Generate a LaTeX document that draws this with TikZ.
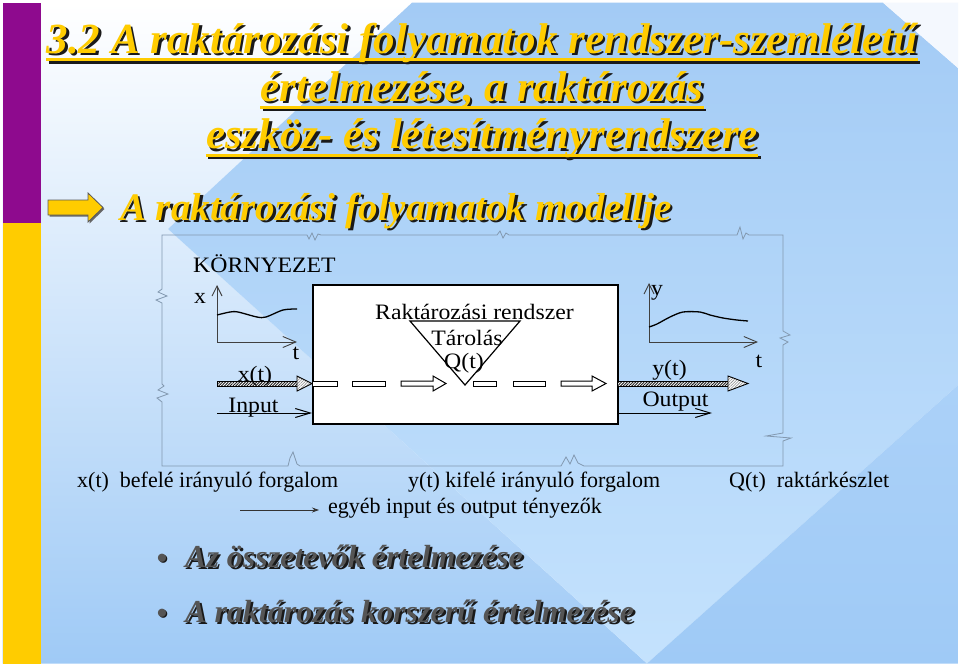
\documentclass[tikz,border=0pt]{standalone}
\usepackage{fontspec}
\setmainfont{Liberation Serif}
\newfontfamily\diagfont{Liberation Serif}[FakeStretch=1.08]
\usetikzlibrary{arrows.meta,patterns.meta,calc}
\definecolor{ttlyellow}{HTML}{FFCC00}
\definecolor{barpurple}{HTML}{8E0A8E}
\definecolor{baryellow}{HTML}{FFCC00}
\definecolor{pTop}{HTML}{A3CBF5}
\definecolor{pBot}{HTML}{C4E2FD}
\definecolor{lMid}{HTML}{D8E9FA}
\definecolor{lBot}{HTML}{9FCAF6}
\definecolor{rTop}{HTML}{ABD1F8}
\definecolor{cornerc}{HTML}{F4F8FE}
\definecolor{frameclr}{HTML}{8399B0}
\definecolor{bulgray}{HTML}{555555}
\definecolor{shadowc}{HTML}{1A1A1A}
\begin{document}
\begin{tikzpicture}[x=1pt,y=-1pt,
  ttl/.style={font=\fontsize{43}{50}\selectfont\bfseries\itshape, inner sep=0pt, text=ttlyellow},
  ttlsh/.style={ttl, text=shadowc},
  subttl/.style={font=\fontsize{39}{46}\selectfont\bfseries\itshape, inner sep=0pt, text=ttlyellow},
  subttlsh/.style={subttl, text=shadowc},
  uline/.style={draw=ttlyellow, line width=2.7pt},
  ulinesh/.style={draw=shadowc, line width=2.7pt},
  diag/.style={font=\diagfont\fontsize{22}{26}\selectfont, inner sep=0pt, text=black},
  legend/.style={font=\fontsize{22}{26}\selectfont, inner sep=0pt, text=black, anchor=base west},
  bul/.style={font=\fontsize{32}{38}\selectfont\bfseries\itshape, inner sep=0pt, text=bulgray, anchor=base west},
  bulsh/.style={bul, text=shadowc},
  bulletdot/.style={font=\fontsize{34}{40}\selectfont, inner sep=0pt, text=bulgray},
  framestyle/.style={draw=frameclr, line width=0.8pt},
  axisline/.style={draw=black!75, line width=0.9pt},
  curveline/.style={draw=black, line width=1.3pt},
  barbv/.style={-{Straight Barb[length=10pt,width=10pt,line width=0.9pt]}},
  barbh/.style={-{Straight Barb[length=13pt,width=11pt,line width=0.9pt]}},
  thinarrow/.style={draw=black, line width=1pt, -{Straight Barb[length=15pt,width=9pt,line width=1pt]}},
  hatchshaft/.style={draw=black, line width=0.6pt, preaction={fill=white}, preaction={pattern={Lines[angle=45,distance=2pt,line width=0.9pt]}, pattern color=black!90}},
  hatchhead/.style={draw=black, line width=0.9pt, preaction={fill=white}, preaction={pattern={Lines[angle=45,distance=2pt,line width=0.6pt]}, pattern color=black!45}},
  dashbox/.style={draw=black, fill=white, line width=1pt},
  legarrow/.style={draw=black!80, line width=0.8pt, -{Stealth[length=7pt,width=5pt]}}
]
\useasboundingbox (0,0) rectangle (960,667);
\fill[white] (0,0) rectangle (960,667);

% ---------- background ----------
\shade[top color=white, middle color=lMid, bottom color=lBot]
  (2.7,2.7) -- (412,2.7) -- (168,229) -- (647,663.5) -- (2.7,663.5) -- cycle;
\shade[top color=pTop, bottom color=pBot]
  (412,2.7) -- (883,2.7) -- (958,68) -- (958,385) -- (647,663.5) -- (168,229) -- cycle;
\shade[top color=rTop, bottom color=lBot]
  (958,385) -- (958,663.5) -- (647,663.5) -- cycle;
\fill[cornerc] (883,2.7) -- (958,2.7) -- (958,68) -- cycle;

% ---------- side bars ----------
\fill[barpurple] (2.7,2.7) rectangle (40.7,222.5);
\fill[baryellow] (2.7,222.5) rectangle (40.7,663.5);

% ---------- title ----------
\node[ttlsh, anchor=base] (t1s) at (484.5,55.8) {3.2 A raktározási folyamatok rendszer-szemléletű};
\node[ttlsh, anchor=base] (t2s) at (484.5,103.5) {értelmezése, a raktározás};
\node[ttlsh, anchor=base] (t3s) at (484.5,151.2) {eszköz- és létesítményrendszere};
\draw[ulinesh] ($(t1s.base west)+(0,6.5)$) -- ($(t1s.base east)+(0,6.5)$);
\draw[ulinesh] ($(t2s.base west)+(0,6.5)$) -- ($(t2s.base east)+(0,6.5)$);
\draw[ulinesh] ($(t3s.base west)+(0,6.5)$) -- ($(t3s.base east)+(0,6.5)$);
\draw[uline] ($(t1s.base west)+(-2.5,4)$) -- ($(t1s.base east)+(-2.5,4)$);
\draw[uline] ($(t2s.base west)+(-2.5,4)$) -- ($(t2s.base east)+(-2.5,4)$);
\draw[uline] ($(t3s.base west)+(-2.5,4)$) -- ($(t3s.base east)+(-2.5,4)$);
\node[ttl, anchor=base] (t1) at (482,53.3) {3.2 A raktározási folyamatok rendszer-szemléletű};
\node[ttl, anchor=base] (t2) at (482,101) {értelmezése, a raktározás};
\node[ttl, anchor=base] (t3) at (482,148.7) {eszköz- és létesítményrendszere};

% ---------- subtitle with block arrow ----------
\fill[black!60] (49.5,201.5) -- (89.5,201.5) -- (89.5,194.5) -- (104.5,209) -- (89.5,223.5) -- (89.5,216.5) -- (49.5,216.5) -- cycle;
\draw[fill=ttlyellow, draw=black!65, line width=0.8pt] (48,200) -- (88,200) -- (88,193) -- (103,207.5) -- (88,222) -- (88,215) -- (48,215) -- cycle;
\node[subttlsh, anchor=base west] (subs) at (122.5,222.5) {A raktározási folyamatok modellje};
\node[subttl, anchor=base west] (sub) at (120,220) {A raktározási folyamatok modellje};

% ---------- environment frame with break marks ----------
\draw[framestyle] (162,235) -- (307,235) -- (309,239) -- (312,233) -- (315,240) -- (318,234) -- (321,235)
  -- (497,235) -- (500,231) -- (503,238) -- (506,233) -- (509,235)
  -- (737,235) -- (740,227) -- (743,239) -- (746,233) -- (749,235) -- (783,235)
  -- (783,331) -- (790,335) -- (780,338) -- (788,342) -- (783,345)
  -- (783,433) -- (766,436) -- (791,438) -- (783,441) -- (783,466)
  -- (584,466) -- (578,463) -- (574,455) -- (570,464) -- (566,457) -- (561,466)
  -- (300,466) -- (297,464) -- (293,452) -- (290,458) -- (288,466) -- (162,466)
  -- (162,402) -- (157,398) -- (168,394) -- (158,390) -- (164,386) -- (162,384)
  -- (162,303) -- (156,300) -- (167,296) -- (158,292) -- (162,289) -- cycle;

\node[diag, anchor=base west] (env) at (193,272) {KÖRNYEZET};

% ---------- main system box ----------
\node[draw=black, fill=white, line width=1.5pt, minimum width=305pt, minimum height=139pt, inner sep=0pt, anchor=north west] (box) at (312,284) {};
\node[diag, anchor=base] (rsys) at (474.5,319) {Raktározási rendszer};
\coordinate (trL) at (410,321);
\coordinate (trR) at (520,321);
\coordinate (trB) at (465,385);
\draw[line width=1.2pt, line join=miter] (trL) -- (trR) -- (trB) -- cycle;
\node[diag, anchor=base] (tar) at (467,345) {Tárolás};
\node[diag, anchor=base] (qt) at (464,368) {Q(t)};

% ---------- input graph ----------
\coordinate (xo) at (217,342);
\coordinate (xtop) at (217,285);
\coordinate (xend) at (297,342);
\draw[axisline, barbv] (xo) -- (xtop);
\draw[axisline, barbh] (xo) -- (xend);
\draw[curveline] plot[smooth, tension=0.5] coordinates {(217,315) (230,312) (238,312) (257,317) (266,317) (283,310) (297,309)};
\node[diag, anchor=base] (xlab) at (200,303) {x};
\node[diag, anchor=base] (tl) at (296,359) {t};

% ---------- output graph ----------
\coordinate (yo) at (649,342);
\coordinate (ytop) at (649,283);
\coordinate (yend) at (758,342);
\draw[axisline, barbv] (yo) -- (ytop);
\draw[axisline, barbh] (yo) -- (yend);
\draw[curveline] plot[smooth, tension=0.5] coordinates {(649,327) (657,324) (670,317) (683,312) (700,312) (710,315) (723,318) (737,320) (748,321)};
\node[diag, anchor=base] (ylab) at (657,295) {y};
\node[diag, anchor=base] (tr) at (759,367) {t};

% ---------- x(t) hatched arrow ----------
\draw[hatchshaft] (217,381) rectangle (297,386);
\draw[hatchhead] (297,376) -- (312,383.5) -- (297,391) -- cycle;
\node[diag, anchor=base] (xt) at (255,381) {x(t)};

% ---------- Input arrow ----------
\coordinate (inS) at (217,413);
\draw[thinarrow] (inS) -- (box.west |- inS);
\node[diag, anchor=base] (inp) at (253.5,412) {Input};

% ---------- dashed hollow flow inside box ----------
\draw[dashbox] (312,381) rectangle (337,386);
\draw[dashbox] (352,381) rectangle (385,386);
\draw[dashbox] (401,381) -- (433,381) -- (433,376) -- (446,383.5) -- (433,391) -- (433,386) -- (401,386) -- cycle;
\draw[dashbox] (473,381) rectangle (496,386);
\draw[dashbox] (513,381) rectangle (545,386);
\draw[dashbox] (561,381) -- (592,381) -- (592,376) -- (606,383.5) -- (592,391) -- (592,386) -- (561,386) -- cycle;

% ---------- y(t) hatched arrow ----------
\draw[hatchshaft] (617,381) rectangle (728,386);
\draw[hatchhead] (728,376) -- (748,383.5) -- (728,391) -- cycle;
\node[diag, anchor=base] (yt) at (669.5,375) {y(t)};

% ---------- Output arrow ----------
\coordinate (outE) at (712,413);
\draw[thinarrow] (box.east |- outE) -- (outE);
\node[diag, anchor=base] (outp) at (675.5,406) {Output};

% ---------- legend ----------
\node[legend] (lg1) at (77,487) {x(t)~~befelé irányuló forgalom};
\node[legend] (lg2) at (408,487) {y(t) kifelé irányuló forgalom};
\node[legend] (lg3) at (729,487) {Q(t)~~raktárkészlet};
\node[legend] (lg4) at (328,513) {egyéb input és output tényezők};
\coordinate (lgA) at (240,510);
\draw[legarrow] (lgA) -- ($(lg4.base west)+(-9,-3)$);

% ---------- bullets ----------
\node[bulletdot, text=shadowc] (b1s) at (163.2,563.2) {•};
\node[bulletdot] (b1) at (162,562) {•};
\node[bulletdot, text=shadowc] (b2s) at (163.2,618.2) {•};
\node[bulletdot] (b2) at (162,617) {•};
\node[bulsh] (l1s) at (187.2,569.2) {Az összetevők értelmezése};
\node[bul] (l1) at (185,567) {Az összetevők értelmezése};
\node[bulsh] (l2s) at (187.2,624.2) {A raktározás korszerű értelmezése};
\node[bul] (l2) at (185,622) {A raktározás korszerű értelmezése};
\end{tikzpicture}
\end{document}
